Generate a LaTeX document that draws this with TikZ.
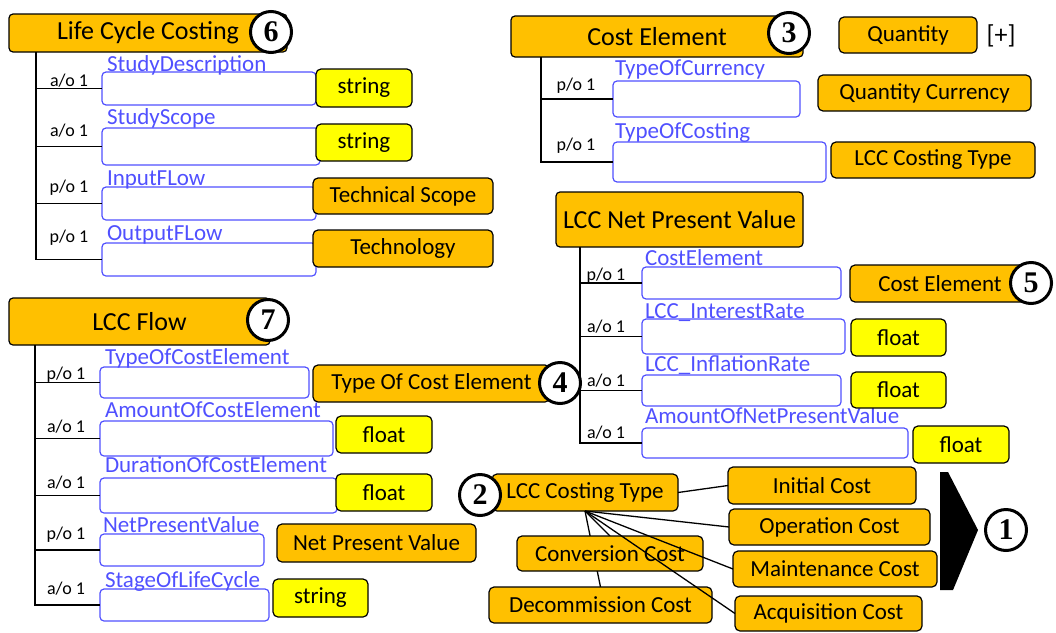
\documentclass[tikz,border=0pt]{standalone}
\usepackage{fontspec}
\setmainfont{Carlito}
\newfontfamily\numfont{Liberation Serif}
\usetikzlibrary{calc,backgrounds}
\definecolor{gold}{RGB}{255,192,0}
\definecolor{lemon}{RGB}{255,255,0}
\definecolor{slotblue}{RGB}{80,80,255}
\begin{document}
\begin{tikzpicture}[x=1pt,y=-1pt,
  every node/.style={inner sep=0pt, outer sep=0pt},
  sz/.style 2 args={minimum width=#1pt, minimum height=#2pt},
  head/.style={draw, fill=gold, line width=1.2pt, rounded corners=4pt, anchor=north west, font=\fontsize{26}{30}\selectfont},
  cls/.style={draw, fill=gold, line width=1.2pt, rounded corners=5pt, anchor=north west, font=\fontsize{23}{27}\selectfont},
  prim/.style={cls, fill=lemon},
  slot/.style={draw=slotblue, line width=1.2pt, rounded corners=4pt, anchor=north west},
  attr/.style={text=slotblue, anchor=base west, font=\fontsize{23}{27}\selectfont},
  card/.style={anchor=base, font=\fontsize{18}{22}\selectfont},
  num/.style={circle, draw, fill=white, line width=3pt, minimum size=41pt, font=\numfont\bfseries\fontsize{30}{32}\selectfont},
  tree/.style={line width=1.6pt},
  link/.style={line width=1.3pt}]
\useasboundingbox (0,0) rectangle (1056,632);

\node[head, sz={278}{38}] (lcc) at (9,14) {Life Cycle Costing};
\node[slot, sz={214}{33}] (sdesc) at (102,72) {};
\node[slot, sz={218}{37}] (sscope) at (102,128) {};
\node[slot, sz={214}{33}] (inflow) at (102,187) {};
\node[slot, sz={214}{33}] (outflow) at (102,243) {};
\node[attr] (sdescl) at (107,71) {StudyDescription};
\node[attr] (sscopel) at (107,124) {StudyScope};
\node[attr] (inflowl) at (107,185) {InputFLow};
\node[attr] (outflowl) at (107,240) {OutputFLow};
\node[card] (sdescc) at (69,86) {a/o 1};
\node[card] (sscopec) at (69,136) {a/o 1};
\node[card] (inflowc) at (69,192) {p/o 1};
\node[card] (outflowc) at (69,242) {p/o 1};
\node[prim, sz={96}{38}] (sdesct) at (316,69) {string};
\node[prim, sz={96}{37}] (sscopet) at (316,124) {string};
\node[cls, sz={180}{36}] (inflowt) at (313,178) {Technical Scope};
\node[cls, sz={180}{37}] (outflowt) at (313,230) {Technology};
\coordinate (lccroot) at ($(lcc.south west)+(27,0)$);
\foreach \s in {sdesc,sscope,inflow,outflow}
  \draw[tree] (lccroot) |- (\s.west);
\node[num] (n6) at (271,32) {6};

\node[head, sz={292}{41}] (ce) at (511,16) {Cost Element};
\node[cls, sz={138}{36}] (qty) at (839,17) {Quantity};
\node[font=\fontsize{26}{30}\selectfont] (plus) at (1001,36) {[+]};
\node[slot, sz={187}{36}] (cur) at (613,81) {};
\node[slot, sz={213}{40}] (cost) at (613,142) {};
\node[attr] (curl) at (615,75) {TypeOfCurrency};
\node[attr] (costl) at (615,138) {TypeOfCosting};
\node[card] (curc) at (576,90) {p/o 1};
\node[card] (costc) at (576,150) {p/o 1};
\node[cls, sz={213}{36}] (curt) at (818,75) {Quantity Currency};
\node[cls, sz={204}{36}] (costt) at (831,142) {LCC Costing Type};
\coordinate (ceroot) at ($(ce.south west)+(30,0)$);
\foreach \s in {cur,cost}
  \draw[tree] (ceroot) |- (\s.west);
\node[num] (n3) at (789,33) {3};

\node[head, sz={247}{55}] (npv) at (556,192) {LCC Net Present Value};
\node[slot, sz={199}{32}] (celem) at (642,267) {};
\node[slot, sz={203}{35}] (irate) at (642,319) {};
\node[slot, sz={199}{31}] (frate) at (642,375) {};
\node[slot, sz={266}{30}] (amnpv) at (642,428) {};
\node[attr] (celeml) at (645,265) {CostElement};
\node[attr] (iratel) at (645,318) {LCC\_InterestRate};
\node[attr] (fratel) at (645,371) {LCC\_InflationRate};
\node[attr] (amnpvl) at (645,423) {AmountOfNetPresentValue};
\node[card] (celemc) at (606,280) {p/o 1};
\node[card] (iratec) at (606,332) {a/o 1};
\node[card] (fratec) at (606,386) {a/o 1};
\node[card] (amnpvc) at (606,438) {a/o 1};
\node[cls, sz={180}{37}] (celemt) at (850,265) {Cost Element};
\node[prim, sz={95}{37}] (iratet) at (851,319) {float};
\node[prim, sz={95}{36}] (fratet) at (851,372) {float};
\node[prim, sz={96}{37}] (amnpvt) at (913,426) {float};
\coordinate (npvroot) at ($(npv.south west)+(24,0)$);
\foreach \s in {celem,irate,frate,amnpv}
  \draw[tree] (npvroot) |- (\s.west);
\node[num] (n5) at (1031,283) {5};

\node[head, sz={261}{47}] (flow) at (9,298) {LCC Flow};
\node[slot, sz={209}{31}] (tce) at (100,367) {};
\node[slot, sz={233}{35}] (ace) at (100,421) {};
\node[slot, sz={237}{35}] (dce) at (100,478) {};
\node[slot, sz={164}{32}] (npvs) at (100,534) {};
\node[slot, sz={169}{32}] (slc) at (100,589) {};
\node[attr] (tcel) at (105,364) {TypeOfCostElement};
\node[attr] (acel) at (105,417) {AmountOfCostElement};
\node[attr] (dcel) at (105,472) {DurationOfCostElement};
\node[attr] (npvsl) at (103,532) {NetPresentValue};
\node[attr] (slcl) at (105,587) {StageOfLifeCycle};
\node[card] (tcec) at (66,379) {p/o 1};
\node[card] (acec) at (66,432) {a/o 1};
\node[card] (dcec) at (66,488) {a/o 1};
\node[card] (npvsc) at (66,539) {p/o 1};
\node[card] (slcc) at (66,594) {a/o 1};
\node[cls, sz={237}{37}] (tcet) at (313,365) {Type Of Cost Element};
\node[prim, sz={96}{37}] (acet) at (336,416) {float};
\node[prim, sz={96}{37}] (dcet) at (336,474) {float};
\node[cls, sz={199}{38}] (npvst) at (277,524) {Net Present Value};
\node[prim, sz={95}{38}] (slct) at (273,579) {string};
\coordinate (flowroot) at ($(flow.south west)+(26,0)$);
\foreach \s in {tce,ace,dce,npvs,slc}
  \draw[tree] (flowroot) |- (\s.west);
\node[num] (n7) at (268,320) {7};
\node[num] (n4) at (560,383) {4};

\node[cls, sz={186}{37}] (lcct) at (492,474) {LCC Costing Type};
\node[cls, sz={188}{37}] (init) at (728,467) {Initial Cost};
\node[cls, sz={201}{36}] (oper) at (729,509) {Operation Cost};
\node[cls, sz={204}{36}] (maint) at (733,551) {Maintenance Cost};
\node[cls, sz={187}{35}] (acq) at (735,596) {Acquisition Cost};
\node[cls, sz={186}{35}] (conv) at (517,536) {Conversion Cost};
\node[cls, sz={223}{36}] (decom) at (489,587) {Decommission Cost};
\begin{scope}[on background layer]
  \draw[link] (lcct.south) -- (decom.north);
  \draw[link] (lcct.south) -- (conv.north);
\end{scope}
\draw[link] (lcct.east) -- (init.west);
\foreach \t in {oper,maint,acq}
  \draw[link] (lcct.south) -- (\t.west);
\node[num] (n2) at (480,495) {2};

\fill (940,472) -- (948,472) -- (978,530) -- (953,590) -- (940,590) -- cycle;
\node[num] (n1) at (1006,530) {1};
\end{tikzpicture}
\end{document}
